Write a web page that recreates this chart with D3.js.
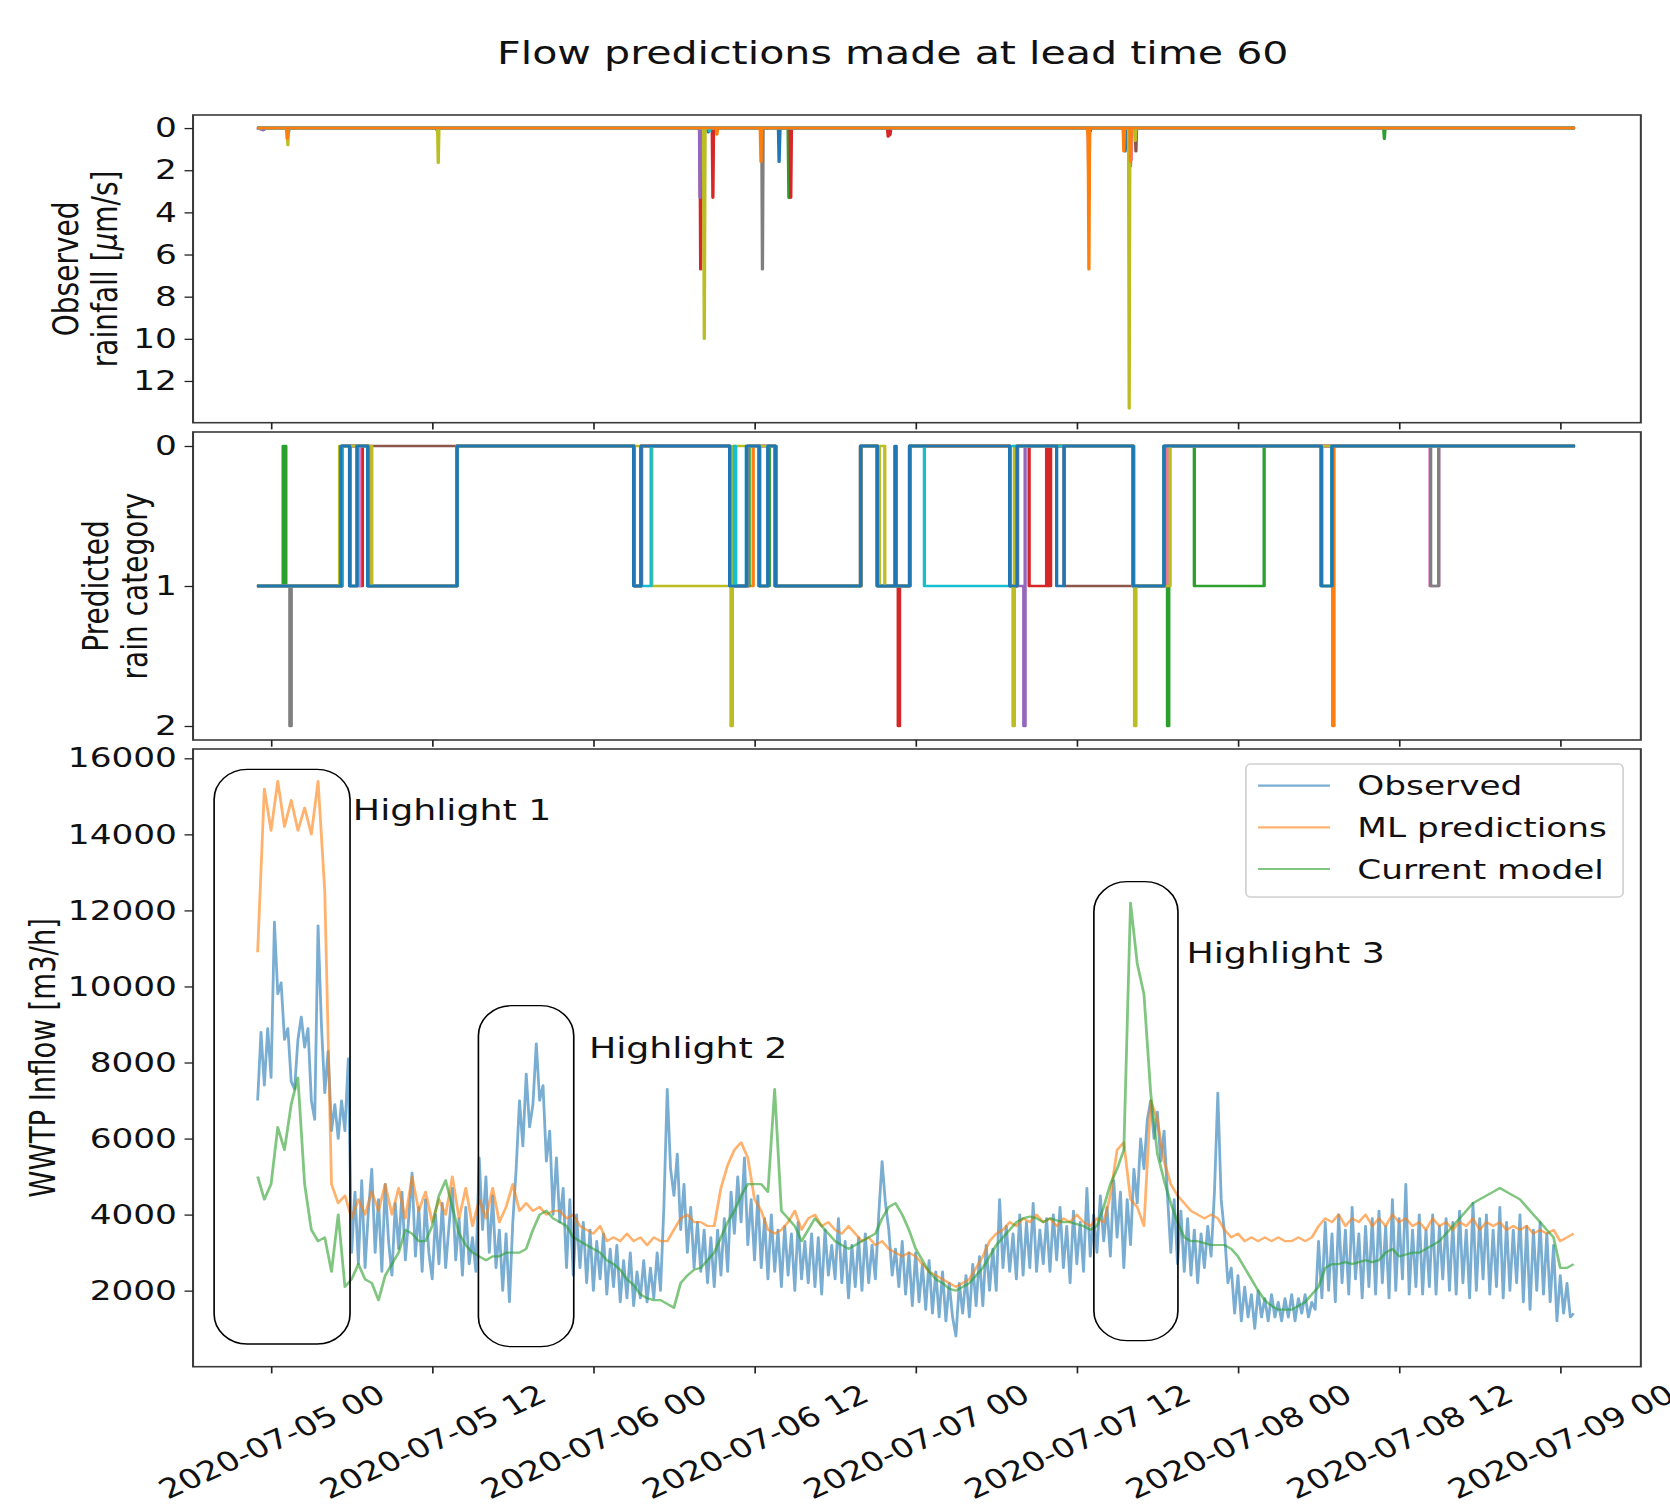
<!DOCTYPE html>
<html>
<head>
<meta charset="utf-8">
<script src="https://cdn.jsdelivr.net/npm/d3@7"></script>
<style>
  body { margin: 0; background: #fff; }
  svg { display: block; }
</style>
</head>
<body>
<div id="chart"></div>
<script>
// ---- data (hours are counted from 2020-07-05 00:00 UTC) ----
const tickLabels = ['2020-07-05 00', '2020-07-05 12', '2020-07-06 00', '2020-07-06 12',
  '2020-07-07 00', '2020-07-07 12', '2020-07-08 00', '2020-07-08 12', '2020-07-09 00'];
const rainTicks = [0, 2, 4, 6, 8, 10, 12];
const catTicks = [0, 1, 2];
const flowTicks = [2000, 4000, 6000, 8000, 10000, 12000, 14000, 16000];

const seriesNames = ['Observed', 'ML predictions', 'Current model'];

// all flow series start at hour -1; observed every 15 min, the two models every 30 min
const flowStartHour = -1;
const observedStepHour = 0.25;
const modelStepHour = 0.5;

const observed = [
  7000, 8800, 7400, 8900, 7600, 11700, 9800, 10100, 8600, 8900, 7500, 7300, 8600, 9200, 8400, 8900, 7000, 6500, 11600, 9000,
  7200, 8300, 6200, 6900, 6000, 7000, 6200, 8100, 3000, 4600, 2700, 4900, 2600, 4100, 5200, 3000, 4400, 2500, 4800, 3300,
  2400, 4300, 3100, 4600, 2800, 3900, 5100, 2900, 4200, 2500, 4400, 3000, 2300, 4000, 2700, 4300, 2600, 3700, 4700, 2800,
  3900, 2400, 4200, 2700, 3400, 2500, 5500, 3600, 5000, 3000, 4500, 2600, 3600, 2000, 3500, 1700, 3800, 5200, 7000, 5800,
  7700, 6300, 6900, 8500, 7000, 7400, 5400, 6200, 4000, 5500, 3800, 4700, 2600, 4400, 2400, 4000, 2600, 3800, 2200, 3600,
  2000, 3300, 2300, 3500, 1900, 3100, 2100, 3200, 1700, 2800, 1800, 3000, 1600, 2500, 1800, 2800, 1700, 2600, 1800, 3000,
  2000, 4200, 7300, 5200, 4500, 5600, 3600, 4800, 3000, 4200, 2600, 3800, 2500, 3600, 2200, 3400, 2100, 3600, 2400, 3900,
  2500, 4600, 3500, 5000, 3800, 5500, 3200, 4400, 2800, 4500, 2600, 3900, 2300, 4000, 2500, 3600, 2100, 3700, 2400, 3500,
  2000, 3800, 2300, 3300, 2200, 3500, 2100, 3400, 1900, 3600, 2400, 3200, 2300, 3900, 2200, 3300, 1800, 3200, 2100, 3400,
  2000, 3500, 2200, 3200, 2300, 4000, 5400, 4300, 3600, 2400, 3100, 2100, 3300, 1900, 3000, 1600, 3000, 1700, 2700, 1500,
  2800, 1400, 2500, 1300, 2500, 1200, 2200, 1300, 800, 2200, 1400, 2400, 1300, 2700, 1600, 2900, 1600, 3200, 2000, 3100,
  2000, 4400, 2600, 3700, 2500, 3500, 2300, 4000, 2400, 3800, 2600, 4300, 2500, 3600, 2700, 3900, 2500, 4000, 2800, 4200,
  2600, 3700, 2200, 4100, 2700, 3800, 2500, 4700, 2900, 4000, 3000, 4500, 3300, 4200, 2900, 4900, 3400, 4600, 2600, 4400,
  3200, 5200, 4300, 6000, 5200, 6500, 7000, 6000, 6700, 5400, 6200, 4500, 3000, 4400, 2700, 4100, 2500, 3900, 2400, 3600,
  2200, 3500, 2600, 3700, 2900, 4600, 7200, 4400, 3500, 2200, 2600, 1400, 2400, 1200, 2100, 1300, 1900, 1000, 2000, 1300,
  1800, 1200, 1900, 1300, 1700, 1200, 1800, 1300, 1900, 1200, 1800, 1400, 1900, 1300, 1700, 1500, 3300, 1800, 3800, 2000,
  3500, 1700, 4000, 2200, 3600, 1900, 4200, 2300, 3500, 1800, 3700, 2100, 3900, 1900, 4100, 2200, 3700, 1800, 4400, 2000,
  3900, 2300, 4800, 1900, 3600, 2100, 4000, 1900, 3600, 2100, 4000, 1900, 3700, 2300, 3900, 2000, 3800, 1900, 4100, 2200,
  3600, 1800, 4300, 2000, 3900, 2300, 4000, 1900, 3600, 2100, 4200, 1800, 3800, 2000, 3600, 2200, 4000, 1700, 3700, 1500,
  3600, 2000, 3800, 1900, 3500, 1700, 3200, 1200, 2400, 1400, 2200, 1300, 1400
];

const mlPredictions = [
  10900, 15200, 14100, 15400, 14200, 14900, 14100, 14700, 14000, 15400,
  12500, 4800, 4300, 4500, 3900, 4400, 4000, 4600, 4100, 4800,
  4000, 4700, 3900, 5000, 4100, 4600, 3800, 4400, 4000, 5000,
  3900, 4700, 3700, 4400, 3900, 4700, 3800, 4200, 4800, 4100,
  4300, 4100, 4200, 4000, 4100, 4100, 3900, 4000, 3700, 3600,
  3500, 3700, 3300, 3400, 3300, 3500, 3300, 3400, 3200, 3400,
  3300, 3300, 3600, 3900, 4000, 3800, 3800, 3700, 3700, 4700,
  5300, 5700, 5900, 5500, 4400, 4100, 3600, 3500, 3600, 3800,
  4100, 3600, 3900, 4000, 3700, 3800, 3600, 3500, 3700, 3500,
  3300, 3400, 3200, 3300, 3100, 3000, 2900, 3000, 2900, 2700,
  2500, 2400, 2300, 2200, 2100, 2200, 2300, 2600, 2900, 3300,
  3500, 3600, 3800, 3700, 3900, 3800, 4000, 3800, 3900, 3700,
  3900, 3800, 4000, 3800, 3700, 3900, 3800, 4500, 5700, 5900,
  4400, 4200, 3700, 7000, 6500, 5400, 4800, 4500, 4300, 4100,
  4000, 3900, 4000, 3900, 3600, 3400, 3500, 3300, 3400, 3300,
  3400, 3300, 3400, 3300, 3300, 3400, 3300, 3400, 3700, 3900,
  3800, 4000, 3700, 3900, 3800, 4000, 3700, 3900, 3700, 4000,
  3800, 3900, 3700, 3800, 3600, 3900, 3700, 3800, 3600, 3800,
  3700, 3900, 3600, 3800, 3700, 3800, 3600, 3700, 3600, 3700,
  3500, 3600, 3500, 3600, 3300, 3400, 3500
];

const currentModel = [
  5000, 4400, 4800, 6300, 5700, 6900, 7600, 4800, 3600, 3300,
  3400, 2500, 4000, 2100, 2300, 2700, 2300, 2200, 1750, 2400,
  2700, 3000, 3600, 3500, 3300, 3300, 3700, 4500, 4900, 4200,
  3500, 3200, 3000, 2900, 2800, 2900, 2900, 3000, 3000, 3000,
  3100, 3600, 4000, 4100, 3900, 3800, 3700, 3400, 3300, 3200,
  3100, 3000, 2800, 2700, 2550, 2300, 2150, 1900, 1800, 1750,
  1750, 1650, 1550, 2200, 2400, 2550, 2600, 2800, 3000, 3400,
  3800, 4100, 4500, 4800, 4800, 4800, 4600, 7300, 4100, 3900,
  3700, 3300, 3600, 3900, 3700, 3500, 3300, 3200, 3100, 3200,
  3300, 3400, 3500, 3900, 4200, 4300, 4000, 3600, 3100, 2800,
  2500, 2300, 2200, 2050, 2000, 2100, 2200, 2400, 2600, 2900,
  3200, 3400, 3600, 3800, 3900, 3950, 3900, 3800, 3900, 3850,
  3800, 3800, 3750, 3700, 3600, 3700, 4200, 4800, 5200, 5700,
  12200, 10600, 9800, 7200, 5600, 4900, 4300, 3800, 3400, 3300,
  3300, 3250, 3200, 3200, 3200, 3100, 2900, 2600, 2300, 2000,
  1750, 1600, 1500, 1500, 1500, 1600, 1700, 1900, 2100, 2600,
  2700, 2700, 2750, 2700, 2750, 2800, 2750, 2800, 3000, 3100,
  2900, 2950, 3000, 3000, 3100, 3200, 3300, 3500, 3700, 3900,
  4100, 4300, 4400, 4500, 4600, 4700, 4600, 4500, 4400, 4200,
  4000, 3800, 3600, 3400, 2600, 2600, 2700
];

// observed rainfall per gauge: [hour, value]
const rainBlue = [[-1.05,0],[1.2,0],[1.25,0.4],[1.35,0],[32.5,0],[32.55,0.2],[32.65,0],[37.78,0],[37.83,1.6],[37.9,0],
  [60.95,0],[61.0,0.15],[61.05,0],[63.55,0],[63.6,1.1],[63.7,0],[97.1,0]];
const rainGreen = [[-1.05,0],[12.3,0],[12.35,0.1],[12.5,0],[38.5,0],[38.56,3.3],[38.62,0],[82.85,0],[82.9,0.5],[82.95,0],[97.1,0]];
const rainRed = [[-1.05,0],[31.94,0],[31.99,6.7],[32.05,0],[32.85,0],[32.9,3.3],[32.95,0],[38.65,0],[38.7,3.3],[38.75,0],
  [45.9,0],[45.95,0.4],[46.1,0.3],[46.15,0],[60.85,0],[60.9,3.3],[60.95,0],[97.1,0]];
const rainPurple = [[-1.05,0],[-0.6,0.1],[-0.3,0],[31.9,0],[31.94,3.3],[32.0,0],[63.95,0],[64.0,1.8],[64.05,0],[97.1,0]];
const rainBrown = [[-1.05,0],[64.35,0],[64.4,1.1],[64.45,0],[97.1,0]];
const rainPink = [[-1.05,0],[64.0,0],[64.05,1.5],[64.1,0],[97.1,0]];
const rainGray = [[-1.05,0],[36.54,0],[36.59,6.7],[36.64,0],[97.1,0]];
const rainOlive = [[-1.05,0],[1.2,0],[1.25,0.8],[1.3,0],[12.4,0],[12.45,1.64],[12.5,0],[32.2,0],[32.26,10.0],[32.32,0],
  [63.85,0],[63.9,13.3],[63.95,0],[64.3,0],[64.35,0.6],[64.4,0],[97.1,0]];
const rainCyan = [[-1.05,0],[32.6,0],[32.65,0.15],[32.7,0],[97.1,0]];
const rainOrange = [[-1.05,0],[1.15,0],[1.2,0.5],[1.3,0],[33.15,0],[33.2,0.3],[33.25,0],[36.43,0],[36.48,1.6],[36.53,0],
  [60.8,0],[60.85,0.5],[60.9,6.7],[60.95,0],[63.45,0],[63.5,1.1],[63.55,0],[63.95,0],[64.0,1.6],[64.05,0],[97.1,0]];

// predicted rain category per gauge: [hour, category] change points
const catOrange = [[-1.05,1],[5.25,0],[5.9,1],[6.45,0],[7.25,1],[13.85,0],[27.05,1],[27.6,0],[34.2,1],[35.9,0],[36.4,1],[37.05,0],
  [37.6,1],[43.95,0],[45.2,1],[47.6,0],[55.05,1],[55.6,0],[64.25,1],[66.55,0],[78.25,1],[79.05,2],[79.15,0],[97.1,0]];
const catGreen = [[-1.05,1],[0.9,0],[1.1,1],[5.3,0],[5.85,1],[6.45,0],[7.2,1],[13.85,0],[27.05,1],[27.55,0],[34.15,1],[35.6,0],
  [36.35,1],[37.1,0],[37.6,1],[43.9,0],[45.15,1],[47.55,0],[55.0,1],[55.55,0],[64.2,1],[66.75,2],[66.85,0],[68.75,1],[73.95,0],
  [78.2,1],[79.0,0],[97.1,0]];
const catRed = [[-1.05,1],[5.3,0],[6.6,1],[6.8,0],[7.3,1],[13.85,0],[27.05,1],[27.55,0],[34.15,1],[35.5,0],[36.35,1],[37.0,0],
  [37.55,1],[43.9,0],[45.15,1],[46.7,2],[46.8,1],[47.55,0],[55.0,1],[55.55,0],[56.45,1],[57.75,0],[57.85,1],[58.05,0],
  [64.2,1],[66.8,0],[97.1,0]];
const catPurple = [[-1.05,1],[5.3,0],[7.2,1],[13.85,0],[27.05,1],[27.55,0],[34.15,1],[35.5,0],[37.55,1],[43.9,0],[45.15,1],
  [47.55,0],[55.0,1],[56.05,2],[56.15,0],[64.2,1],[66.5,0],[97.1,0]];
const catBrown = [[-1.05,1],[5.3,0],[27.05,1],[27.55,0],[34.15,1],[35.5,0],[37.55,1],[43.9,0],[45.15,1],[47.55,0],[55.0,1],
  [55.55,0],[59.05,1],[66.5,0],[97.1,0]];
const catPink = [[-1.05,1],[5.3,0],[5.85,1],[6.6,0],[7.25,1],[13.85,0],[27.05,1],[27.55,0],[34.15,1],[35.5,0],[37.55,1],
  [43.9,0],[45.15,1],[47.55,0],[55.0,1],[55.55,0],[64.2,1],[66.8,0],[86.3,1],[86.95,0],[97.1,0]];
const catGray = [[-1.05,1],[1.4,2],[1.5,1],[5.3,0],[7.2,1],[13.85,0],[27.05,1],[27.55,0],[34.15,1],[35.5,0],[37.55,1],
  [43.9,0],[45.15,1],[47.55,0],[55.0,1],[55.55,0],[64.2,1],[66.5,0],[86.35,1],[86.95,0],[97.1,0]];
const catOlive = [[-1.05,1],[5.1,0],[7.5,1],[13.85,0],[28.35,1],[34.25,2],[34.35,0],[37.55,1],[43.9,0],[45.15,1],[45.3,0],
  [45.7,1],[47.55,0],[55.0,1],[55.25,2],[55.35,0],[64.2,1],[64.3,2],[64.4,1],[66.95,0],[97.1,0]];
const catCyan = [[-1.05,1],[5.3,0],[5.85,1],[6.4,0],[7.2,1],[13.85,0],[27.05,1],[28.3,0],[34.15,1],[34.5,0],[34.6,1],[35.4,0],
  [36.35,1],[37.0,0],[37.55,1],[43.9,0],[45.15,1],[47.55,0],[48.65,1],[55.0,0],[64.2,1],[66.5,0],[78.2,1],[79.0,0],[97.1,0]];
const catBlue = [[-1.05,1],[5.2,0],[5.85,1],[6.4,0],[7.2,1],[13.85,0],[27.0,1],[27.55,0],[34.15,1],[35.4,0],[36.35,1],[37.0,0],
  [37.55,1],[43.9,0],[45.15,1],[46.45,0],[46.55,1],[47.55,0],[55.0,1],[55.55,0],[58.5,1],[59.05,0],[64.2,1],[66.5,0],
  [78.2,1],[79.0,0],[97.1,0]];

// highlighted periods (hours, m3/h)
const highlightNames = ['Highlight 1', 'Highlight 2', 'Highlight 3'];
const highlightStart = [-4.24, 15.44, 61.27];
const highlightEnd = [5.88, 22.54, 67.53];
const highlightTop = [15711, 9494, 12755];
const highlightBottom = [597, 526, 684];
const highlightTextHour = [6.09, 23.67, 68.16];
const highlightTextValue = [14378, 8129, 10625];

// ---- drawing ----
const W = 1670, H = 1509;
const SX = 1.27;          // the figure is stretched sideways
const VW = W / SX;
const FONT = '"DejaVu Sans", sans-serif';

const t0 = Date.UTC(2020, 6, 5);
const hr = h => new Date(t0 + h * 36e5);
const parseTick = d3.utcParse('%Y-%m-%d %H');
const tickDates = tickLabels.map(parseTick);

const tab = {blue: '#1f77b4', orange: '#ff7f0e', green: '#2ca02c', red: '#d62728', purple: '#9467bd',
  brown: '#8c564b', pink: '#e377c2', gray: '#7f7f7f', olive: '#bcbd22', cyan: '#17becf'};

const left = 152, right = 1292;
const p1 = {top: 115, bottom: 422.7};
const p2 = {top: 432, bottom: 740};
const p3 = {top: 749, bottom: 1366.7};

const svg = d3.select('#chart').append('svg')
  .attr('width', W).attr('height', H)
  .attr('viewBox', `0 0 ${VW} ${H}`)
  .attr('preserveAspectRatio', 'none')
  .style('font-family', FONT);

const x = d3.scaleUtc().domain([hr(-5.81), hr(102)]).range([left, right]);
const y1 = d3.scaleLinear().domain([-0.62, 13.98]).range([p1.top, p1.bottom]);
const y2 = d3.scaleLinear().domain([-0.1, 2.1]).range([p2.top, p2.bottom]);
const y3 = d3.scaleLinear().domain([0, 16245]).range([p3.bottom, p3.top]);

svg.append('text')
  .attr('x', 703).attr('y', 64)
  .attr('text-anchor', 'middle')
  .attr('font-size', 32.4)
  .attr('fill', '#111')
  .text('Flow predictions made at lead time 60');

// panel 1: observed rainfall
const rainLine = d3.line().x(d => x(hr(d[0]))).y(d => y1(d[1]));
const rainSeries = [rainBlue, rainGreen, rainRed, rainPurple, rainBrown, rainPink, rainGray, rainOlive, rainCyan, rainOrange];
const rainColors = [tab.blue, tab.green, tab.red, tab.purple, tab.brown, tab.pink, tab.gray, tab.olive, tab.cyan, tab.orange];
svg.append('g').selectAll('path')
  .data(rainSeries)
  .enter().append('path')
  .attr('d', rainLine)
  .attr('fill', 'none')
  .attr('stroke', (d, i) => rainColors[i])
  .attr('stroke-width', 2.6)
  .attr('stroke-linejoin', 'round');

// panel 2: predicted rain category
const catLine = d3.line().curve(d3.curveStepAfter).x(d => x(hr(d[0]))).y(d => y2(d[1]));
const catSeries = [catOrange, catGreen, catRed, catPurple, catBrown, catPink, catGray, catOlive, catCyan, catBlue];
const catColors = [tab.orange, tab.green, tab.red, tab.purple, tab.brown, tab.pink, tab.gray, tab.olive, tab.cyan, tab.blue];
svg.append('g').selectAll('path')
  .data(catSeries)
  .enter().append('path')
  .attr('d', catLine)
  .attr('fill', 'none')
  .attr('stroke', (d, i) => catColors[i])
  .attr('stroke-width', 2.6)
  .attr('stroke-linejoin', 'round');

// panel 3: WWTP inflow
const flowColors = [tab.blue, tab.orange, tab.green];
const flowSeries = [
  {values: observed, step: observedStepHour},
  {values: mlPredictions, step: modelStepHour},
  {values: currentModel, step: modelStepHour}
];
svg.append('g').selectAll('path')
  .data(flowSeries)
  .enter().append('path')
  .attr('d', s => d3.line()
    .x((d, i) => x(hr(flowStartHour + i * s.step)))
    .y(d => y3(d))(s.values))
  .attr('fill', 'none')
  .attr('stroke', (d, i) => flowColors[i])
  .attr('stroke-opacity', 0.6)
  .attr('stroke-width', 2.2)
  .attr('stroke-linejoin', 'round');

// highlight boxes
svg.append('g').selectAll('rect')
  .data(highlightNames)
  .enter().append('rect')
  .attr('x', (d, i) => x(hr(highlightStart[i])))
  .attr('y', (d, i) => y3(highlightTop[i]))
  .attr('width', (d, i) => x(hr(highlightEnd[i])) - x(hr(highlightStart[i])))
  .attr('height', (d, i) => y3(highlightBottom[i]) - y3(highlightTop[i]))
  .attr('rx', 26).attr('ry', 30)
  .attr('fill', 'none')
  .attr('stroke', '#000')
  .attr('stroke-width', 1.3);

svg.append('g').selectAll('text')
  .data(highlightNames)
  .enter().append('text')
  .attr('x', (d, i) => x(hr(highlightTextHour[i])))
  .attr('y', (d, i) => y3(highlightTextValue[i]))
  .attr('font-size', 28.6)
  .attr('fill', '#111')
  .text(d => d);

// frames and axes
[p1, p2, p3].forEach(p => {
  svg.append('rect')
    .attr('x', left).attr('y', p.top)
    .attr('width', right - left).attr('height', p.bottom - p.top)
    .attr('fill', 'none').attr('stroke', '#3a3a3a').attr('stroke-width', 1.6);
});

function styleAxis(g) {
  g.select('.domain').remove();
  g.attr('font-family', FONT).attr('font-size', 27);
  g.selectAll('line').attr('stroke', '#222').attr('stroke-width', 1.3);
  g.selectAll('text').attr('fill', '#111');
}

svg.append('g').attr('transform', `translate(${left},0)`)
  .call(d3.axisLeft(y1).tickValues(rainTicks).tickSize(6.7).tickPadding(6).tickFormat(d3.format('d')))
  .call(styleAxis);
svg.append('g').attr('transform', `translate(${left},0)`)
  .call(d3.axisLeft(y2).tickValues(catTicks).tickSize(6.7).tickPadding(6).tickFormat(d3.format('d')))
  .call(styleAxis);
svg.append('g').attr('transform', `translate(${left},0)`)
  .call(d3.axisLeft(y3).tickValues(flowTicks).tickSize(6.7).tickPadding(6).tickFormat(d3.format('d')))
  .call(styleAxis);

[p1, p2].forEach(p => {
  svg.append('g').attr('transform', `translate(0,${p.bottom})`)
    .call(d3.axisBottom(x).tickValues(tickDates).tickSize(6.7).tickFormat(''))
    .call(styleAxis);
});

const xAxis3 = svg.append('g').attr('transform', `translate(0,${p3.bottom})`)
  .call(d3.axisBottom(x).tickValues(tickDates).tickSize(6.7).tickFormat((d, i) => tickLabels[i]))
  .call(styleAxis);
xAxis3.selectAll('text')
  .attr('y', 0)
  .attr('dy', '0.35em')
  .attr('text-anchor', 'middle')
  .attr('transform', 'translate(0,75) rotate(-30)');

// y labels
function yLabel(lines, xs, cy, size) {
  lines.forEach((ln, i) => {
    const t = svg.append('text')
      .attr('transform', `translate(${xs[i]},${cy}) rotate(-90)`)
      .attr('text-anchor', 'middle')
      .attr('font-size', size)
      .attr('fill', '#111');
    ln.forEach(part => {
      t.append('tspan').attr('font-style', part.italic ? 'italic' : null).text(part.s);
    });
  });
}
yLabel([[{s: 'Observed'}], [{s: 'rainfall ['}, {s: 'μ', italic: true}, {s: 'm/s]'}]], [61.5, 92], (p1.top + p1.bottom) / 2, 28);
yLabel([[{s: 'Predicted'}], [{s: 'rain category'}]], [85, 116], (p2.top + p2.bottom) / 2, 28);
yLabel([[{s: 'WWTP Inflow [m3/h]'}]], [43.6], (p3.top + p3.bottom) / 2, 27.5);

// legend
const lg = svg.append('g');
lg.append('rect')
  .attr('x', 981).attr('y', 764).attr('width', 297).attr('height', 133)
  .attr('rx', 3.5).attr('ry', 4.5)
  .attr('fill', '#fff').attr('fill-opacity', 0.8)
  .attr('stroke', '#d0d0d0').attr('stroke-width', 1.3);
const rowY = [785.7, 827.3, 869];
seriesNames.forEach((name, i) => {
  lg.append('line')
    .attr('x1', 990.6).attr('x2', 1047.2)
    .attr('y1', rowY[i]).attr('y2', rowY[i])
    .attr('stroke', flowColors[i]).attr('stroke-opacity', 0.6).attr('stroke-width', 2.2);
  lg.append('text')
    .attr('x', 1068.8).attr('y', rowY[i]).attr('dy', '0.36em')
    .attr('font-size', 27).attr('fill', '#111')
    .text(name);
});
</script>
</body>
</html>
